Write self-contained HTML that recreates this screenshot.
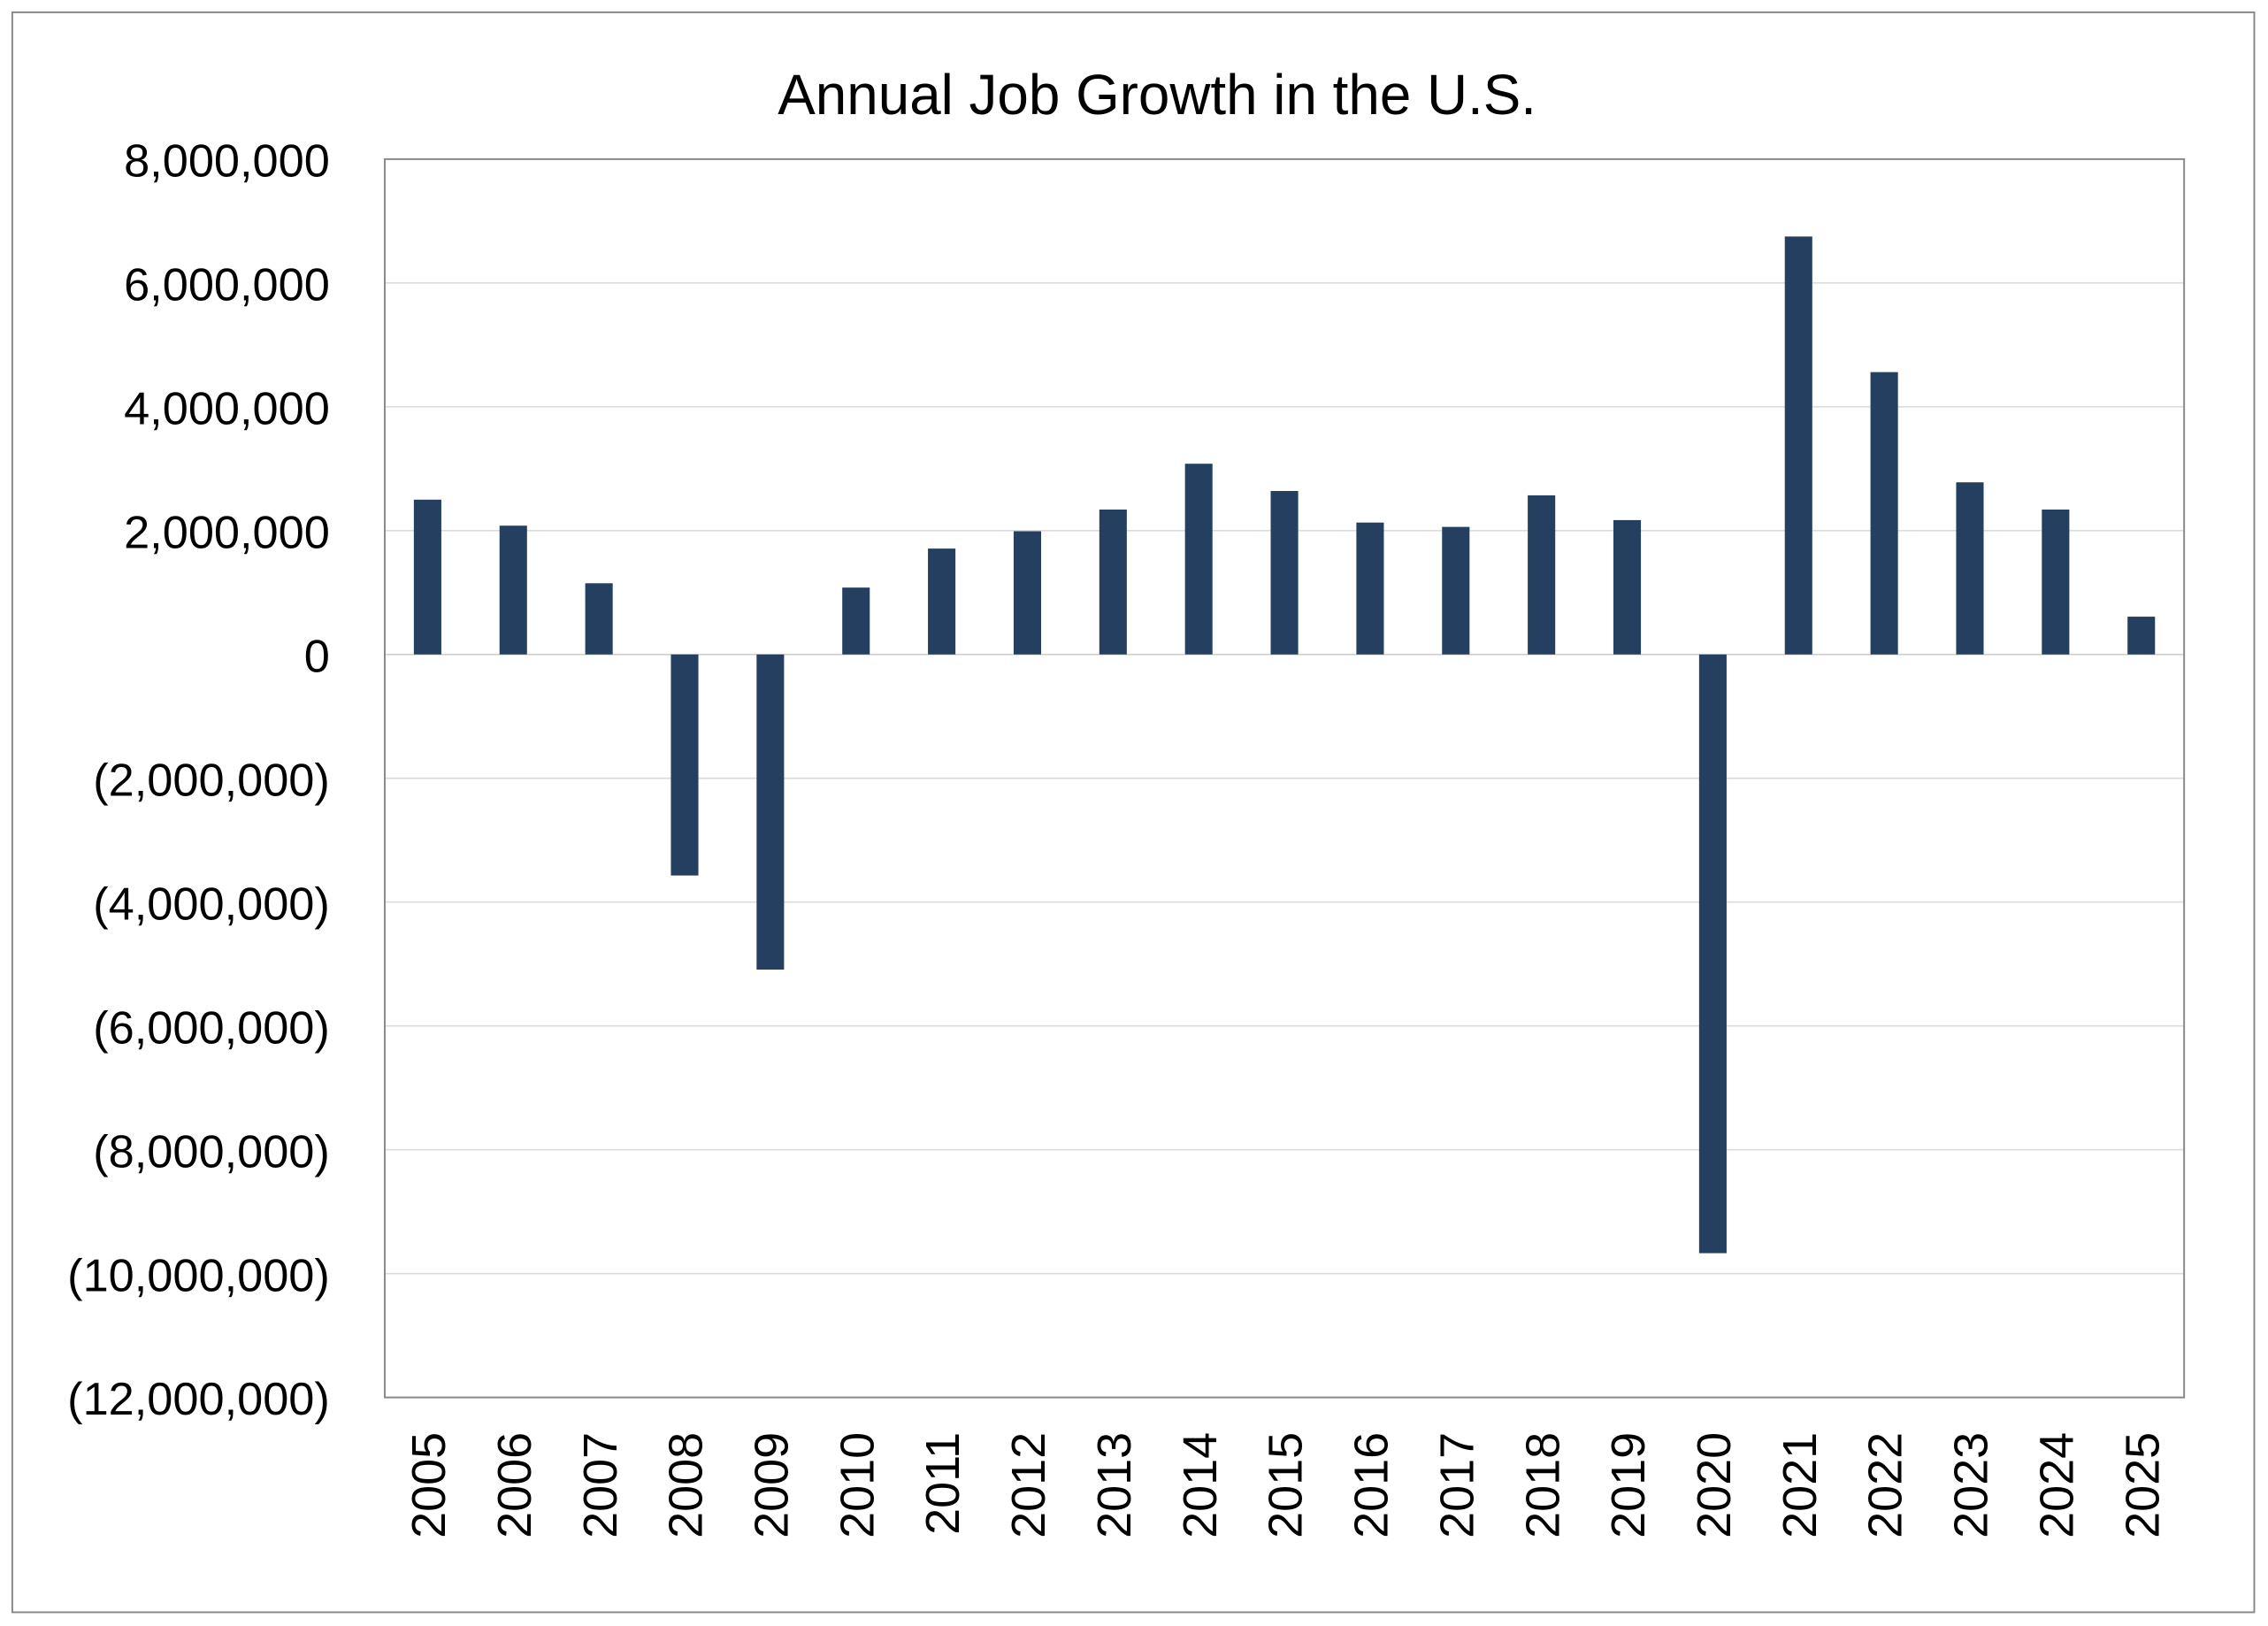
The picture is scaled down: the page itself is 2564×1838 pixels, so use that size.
<!DOCTYPE html>
<html><head><meta charset="utf-8">
<style>
html,body{margin:0;padding:0;background:#fff;}
svg{display:block;}
text{font-family:"Liberation Sans",sans-serif;fill:#000;}
</style></head>
<body>
<svg id="chart" width="2564" height="1838" viewBox="0 0 1568 1124" preserveAspectRatio="none" xmlns="http://www.w3.org/2000/svg">
<rect x="8.5" y="8.5" width="1550" height="1106" fill="#fff" stroke="#888" stroke-width="1.2"/>
<text x="800" y="79" font-size="39" text-anchor="middle">Annual Job Growth in the U.S.</text>
<g id="grid"></g>
<g id="bars"></g>
<rect x="266" y="110" width="1244" height="856" fill="none" stroke="#888" stroke-width="1.2"/>
<g id="yticks"></g>
<g id="xticks"></g>
</svg>
<script>
const categories = ["2005","2006","2007","2008","2009","2010","2011","2012","2013","2014","2015","2016","2017","2018","2019","2020","2021","2022","2023","2024","2025"];
const jobGrowth = [2500000,2080000,1150000,-3570000,-5090000,1080000,1710000,1990000,2340000,3080000,2640000,2130000,2060000,2570000,2170000,-9670000,6750000,4560000,2780000,2340000,610000];
const yTickValues = [8000000,6000000,4000000,2000000,0,-2000000,-4000000,-6000000,-8000000,-10000000,-12000000];
const yTickLabels = ["8,000,000","6,000,000","4,000,000","2,000,000","0","(2,000,000)","(4,000,000)","(6,000,000)","(8,000,000)","(10,000,000)","(12,000,000)"];

const NS="http://www.w3.org/2000/svg";
const plotL=266, plotR=1510, plotT=110, plotB=966, yMax=8000000, yMin=-12000000;
function y(v){return plotT+(yMax-v)/(yMax-yMin)*(plotB-plotT);}
const step=(plotR-plotL)/categories.length;
function x(i){return plotL+step*(i+0.5);}
const barW=19;

const grid=document.getElementById('grid'), yt=document.getElementById('yticks');
yTickValues.forEach((v,i)=>{
  const l=document.createElementNS(NS,'line');
  l.setAttribute('x1',plotL);l.setAttribute('x2',plotR);
  l.setAttribute('y1',y(v));l.setAttribute('y2',y(v));
  l.setAttribute('stroke',v===0?'#d0d0d0':'#dcdcdc');l.setAttribute('stroke-width','1');
  
  
  grid.appendChild(l);
  const t=document.createElementNS(NS,'text');
  t.setAttribute('x',228);t.setAttribute('y',y(v)+12);
  t.setAttribute('font-size','32');t.setAttribute('text-anchor','end');
  t.textContent=yTickLabels[i];
  
  
  yt.appendChild(t);
});
const bars=document.getElementById('bars'), xt=document.getElementById('xticks');
categories.forEach((c,i)=>{
  const v=jobGrowth[i];
  const r=document.createElementNS(NS,'rect');
  r.setAttribute('x',x(i)-barW/2);r.setAttribute('width',barW);
  r.setAttribute('y',Math.min(y(v),y(0)));r.setAttribute('height',Math.abs(y(v)-y(0)));
  r.setAttribute('fill','#243f60');
  
  
  bars.appendChild(r);
  const t=document.createElementNS(NS,'text');
  t.setAttribute('transform','translate('+(x(i)+12)+',990) rotate(-90)');
  t.setAttribute('font-size','33');t.setAttribute('text-anchor','end');
  t.textContent=c;
  
  
  xt.appendChild(t);
});
</script>
</body></html>
